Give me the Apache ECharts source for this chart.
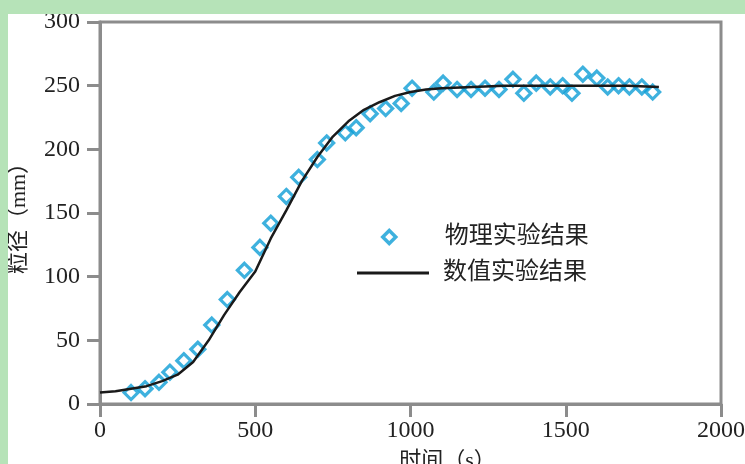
<!DOCTYPE html>
<html>
<head>
<meta charset="utf-8">
<script src="https://cdn.jsdelivr.net/npm/echarts@6/dist/echarts.min.js"></script>
<style>
  html, body { margin: 0; padding: 0; }
  body { width: 745px; height: 464px; background: #b6e3b8; position: relative; overflow: hidden; }
  #main { position: absolute; left: 8px; top: 14px; width: 737px; height: 450px; background: #fff; }
</style>
</head>
<body>
<div id="main"></div>
<script>
// 物理实验结果 (scatter)
const physX = [100, 145, 190, 225, 270, 315, 360, 410, 465, 515, 550, 600, 640, 700, 730, 790, 825, 870, 920, 970,
    1005, 1075, 1105, 1150, 1195, 1240, 1285, 1330, 1365, 1405, 1450, 1490, 1520, 1555, 1600, 1635, 1670, 1705, 1745, 1780];
const physY = [9, 12, 17, 25, 34, 43, 62, 82, 105, 123, 142, 163, 178, 192, 205, 213, 217, 228, 232, 236,
    248, 245, 252, 247, 247, 248, 247, 255, 244, 252, 249, 250, 244, 259, 256, 249, 250, 249, 249, 245];

// 数值实验结果 (line)
const numX = [0, 50, 100, 150, 200, 250, 300, 350, 400, 450, 500, 550, 600, 650, 700, 750, 800, 850, 900, 950,
    1000, 1050, 1100, 1200, 1300, 1400, 1500, 1600, 1700, 1800];
const numY = [9, 10, 12, 14, 18, 23, 33, 50, 70, 88, 104, 130, 152, 175, 194, 210, 222, 231, 237, 242,
    245, 247, 248, 249, 250, 250, 250, 250, 250, 249];

const xTicks = [0, 500, 1000, 1500, 2000];
const yTicks = [0, 50, 100, 150, 200, 250, 300];

const names = ['物理实验结果', '数值实验结果'];

let chart = echarts.init(document.getElementById('main'));

let phys = [];
for (let i = 0; i < physX.length; i++) {
    phys.push([physX[i], physY[i]]);
}
let num = [];
for (let i = 0; i < numX.length; i++) {
    num.push([numX[i], numY[i]]);
}

const axisGray = '#8c8c8c';
const blue = '#0e9ed6';
const labelFont = "'Liberation Serif', 'Noto Sans CJK SC', serif";

let legendText = {
    fontFamily: labelFont,
    fontSize: 24,
    lineHeight: 24,
    color: '#222'
};

let option = {
    animation: false,
    grid: {
        left: 92,
        top: 8,
        right: 24,
        bottom: 60,
        show: true,
        borderColor: axisGray,
        borderWidth: 3,
        containLabel: false,
        outerBoundsMode: 'none'
    },
    legend: [
        {
            orient: 'vertical',
            left: 368,
            top: 206,
            itemWidth: 13,
            itemHeight: 13,
            data: [{
                name: names[0],
                icon: 'diamond',
                itemStyle: { color: '#fff', borderColor: blue, borderWidth: 3.5 }
            }],
            textStyle: Object.assign({ padding: [0, 0, 0, 44] }, legendText)
        },
        {
            orient: 'vertical',
            left: 344,
            top: 242,
            itemWidth: 72,
            itemHeight: 3,
            data: [{ name: names[1], icon: 'rect', itemStyle: { color: '#1a1a1a' } }],
            textStyle: Object.assign({ padding: [0, 0, 0, 9] }, legendText)
        }
    ],
    xAxis: {
        type: 'value',
        min: xTicks[0],
        max: xTicks[xTicks.length - 1],
        interval: 500,
        name: '时间（s）',
        nameLocation: 'middle',
        nameGap: 46,
        nameTextStyle: {
            fontFamily: labelFont,
            fontSize: 22,
            color: '#222',
            padding: [0, 0, 0, 74]
        },
        axisLine: { show: true, lineStyle: { color: axisGray, width: 3 } },
        axisTick: { show: true, length: 13, lineStyle: { color: axisGray, width: 3 } },
        axisLabel: {
            margin: 15,
            fontFamily: labelFont,
            fontSize: 24,
            color: '#222',
            formatter: v => String(v)
        },
        splitLine: { show: false }
    },
    yAxis: {
        type: 'value',
        min: yTicks[0],
        max: yTicks[yTicks.length - 1],
        interval: 50,
        name: '粒径（mm）',
        nameLocation: 'middle',
        nameGap: 70,
        nameTextStyle: {
            fontFamily: labelFont,
            fontSize: 22,
            color: '#222'
        },
        axisLine: { show: true, lineStyle: { color: axisGray, width: 3 } },
        axisTick: { show: true, length: 13, lineStyle: { color: axisGray, width: 3 } },
        axisLabel: {
            margin: 20,
            fontFamily: labelFont,
            fontSize: 24,
            color: '#222',
            formatter: v => String(v)
        },
        splitLine: { show: false }
    },
    series: [
        {
            name: names[0],
            type: 'scatter',
            data: phys,
            symbol: 'diamond',
            symbolSize: 14,
            itemStyle: {
                color: 'rgba(255,255,255,0)',
                borderColor: blue,
                borderWidth: 3.2
            },
            z: 2
        },
        {
            name: names[1],
            type: 'line',
            data: num,
            symbol: 'none',
            lineStyle: { color: '#1a1a1a', width: 2.5 },
            itemStyle: { color: '#1a1a1a' },
            z: 3
        }
    ]
};

chart.setOption(option);
</script>
</body>
</html>
